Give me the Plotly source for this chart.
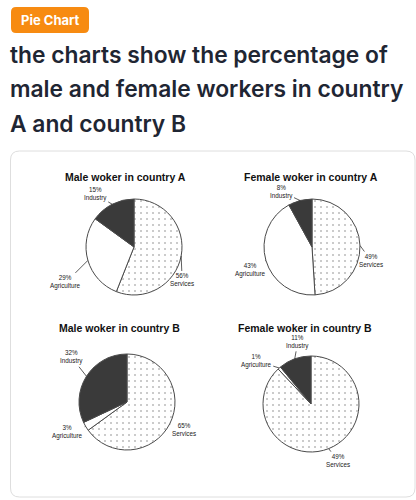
import math
import plotly.graph_objects as go

W, H = 416, 500

# ---- data ----
badge_text = "Pie Chart"
heading_lines = [
    "the charts show the percentage of",
    "male and female workers in country",
    "A and country B",
]
sectors = ["Services", "Agriculture", "Industry"]
chart_titles = [
    "Male woker in country A",
    "Female woker in country A",
    "Male woker in country B",
    "Female woker in country B",
]
male_a = [56, 29, 15]
female_a = [49, 43, 8]
male_b = [65, 3, 32]
female_b = [88, 1, 11]
male_a_text = ["56%", "29%", "15%"]
female_a_text = ["49%", "43%", "8%"]
male_b_text = ["65%", "3%", "32%"]
female_b_text = ["49%", "1%", "11%"]

# ---- style / layout ----
colors = ["white", "white", "#3a3a3a"]
patterns = [".", "", ""]
ink = "#4a4a4a"

pies = [
    dict(vals=male_a, txt=male_a_text, title=chart_titles[0], c=(134, 247), r=48, tx=125, ty=177,
         off=[(1, 24), (-22, 22), (-17, -10)]),
    dict(vals=female_a, txt=female_a_text, title=chart_titles[1], c=(312, 247), r=48, tx=311, ty=177,
         off=[(11, 15), (-15, 10), (-19, -9)]),
    dict(vals=male_b, txt=male_b_text, title=chart_titles[2], c=(127, 402), r=48, tx=119, ty=328,
         off=[(14, 6), (-18, 6), (-15, -19)]),
    dict(vals=female_b, txt=female_b_text, title=chart_titles[3], c=(311, 404), r=48, tx=305, ty=328,
         off=[(9, 12), (-23, -7), (3, -17)]),
]


def px(x):
    return x / W


def py(y):
    return 1 - y / H


def rounded_rect(x0, y0, x1, y1, rad):
    pts = [
        f"M {px(x0 + rad)},{py(y0)}",
        f"L {px(x1 - rad)},{py(y0)}",
        f"Q {px(x1)},{py(y0)} {px(x1)},{py(y0 + rad)}",
        f"L {px(x1)},{py(y1 - rad)}",
        f"Q {px(x1)},{py(y1)} {px(x1 - rad)},{py(y1)}",
        f"L {px(x0 + rad)},{py(y1)}",
        f"Q {px(x0)},{py(y1)} {px(x0)},{py(y1 - rad)}",
        f"L {px(x0)},{py(y0 + rad)}",
        f"Q {px(x0)},{py(y0)} {px(x0 + rad)},{py(y0)}",
        "Z",
    ]
    return " ".join(pts)


fig = go.Figure()
annotations = []

for p in pies:
    cx, cy = p["c"]
    r = p["r"]
    fig.add_trace(go.Pie(
        labels=sectors,
        values=p["vals"],
        sort=False,
        direction="clockwise",
        rotation=0,
        textinfo="none",
        hoverinfo="label+percent",
        showlegend=False,
        marker=dict(
            colors=colors,
            line=dict(color=ink, width=1),
            pattern=dict(shape=patterns, fgcolor="#8a8a8a", bgcolor="white",
                         size=6, solidity=0.06),
        ),
        domain=dict(x=[px(cx - r), px(cx + r)], y=[py(cy + r), py(cy - r)]),
    ))
    annotations.append(dict(
        x=px(p["tx"]), y=py(p["ty"]), xref="paper", yref="paper",
        text=f"<b>{p['title']}</b>", showarrow=False,
        font=dict(family="Liberation Sans, Arial", size=10.5, color="#111111"),
        xanchor="center", yanchor="middle",
    ))
    total = sum(p["vals"])
    cum = 0
    for v, lab, t, (ox, oy) in zip(p["vals"], sectors, p["txt"], p["off"]):
        mid = (cum + v / 2) / total * 2 * math.pi
        cum += v
        ex = cx + r * math.sin(mid)
        ey = cy - r * math.cos(mid)
        annotations.append(dict(
            x=px(ex), y=py(ey), xref="paper", yref="paper",
            text=f"{t}<br>{lab}", showarrow=True, arrowhead=0, arrowwidth=0.8,
            arrowcolor="#333333", ax=ox, ay=oy, standoff=0,
            font=dict(family="Liberation Sans, Arial", size=6.3, color="#222222"),
            align="center",
        ))

# badge
annotations.append(dict(
    x=px(50), y=py(20), xref="paper", yref="paper", text="<b>" + badge_text + "</b>",
    showarrow=False, font=dict(family="Inter, Liberation Sans", size=13, color="white"),
    xanchor="center", yanchor="middle",
))
for i, line in enumerate(heading_lines):
    annotations.append(dict(
        x=px(8), y=py(55 + i * 34), xref="paper", yref="paper", text=line,
        showarrow=False, xanchor="left", yanchor="middle",
        font=dict(family="Inter", size=22.8, color="#1f2633", weight=600),
    ))

shapes = [
    dict(type="path", path=rounded_rect(11, 7, 89, 33, 5), xref="paper", yref="paper",
         fillcolor="#f78b11", line=dict(width=0), layer="below"),
    dict(type="path", path=rounded_rect(10.5, 151, 415, 497, 9), xref="paper", yref="paper",
         fillcolor="white", line=dict(color="#dedede", width=1), layer="below"),
]

fig.update_layout(
    width=W, height=H,
    margin=dict(l=0, r=0, t=0, b=0),
    paper_bgcolor="white", plot_bgcolor="white",
    annotations=annotations, shapes=shapes,
)

fig.write_html("out.html")
